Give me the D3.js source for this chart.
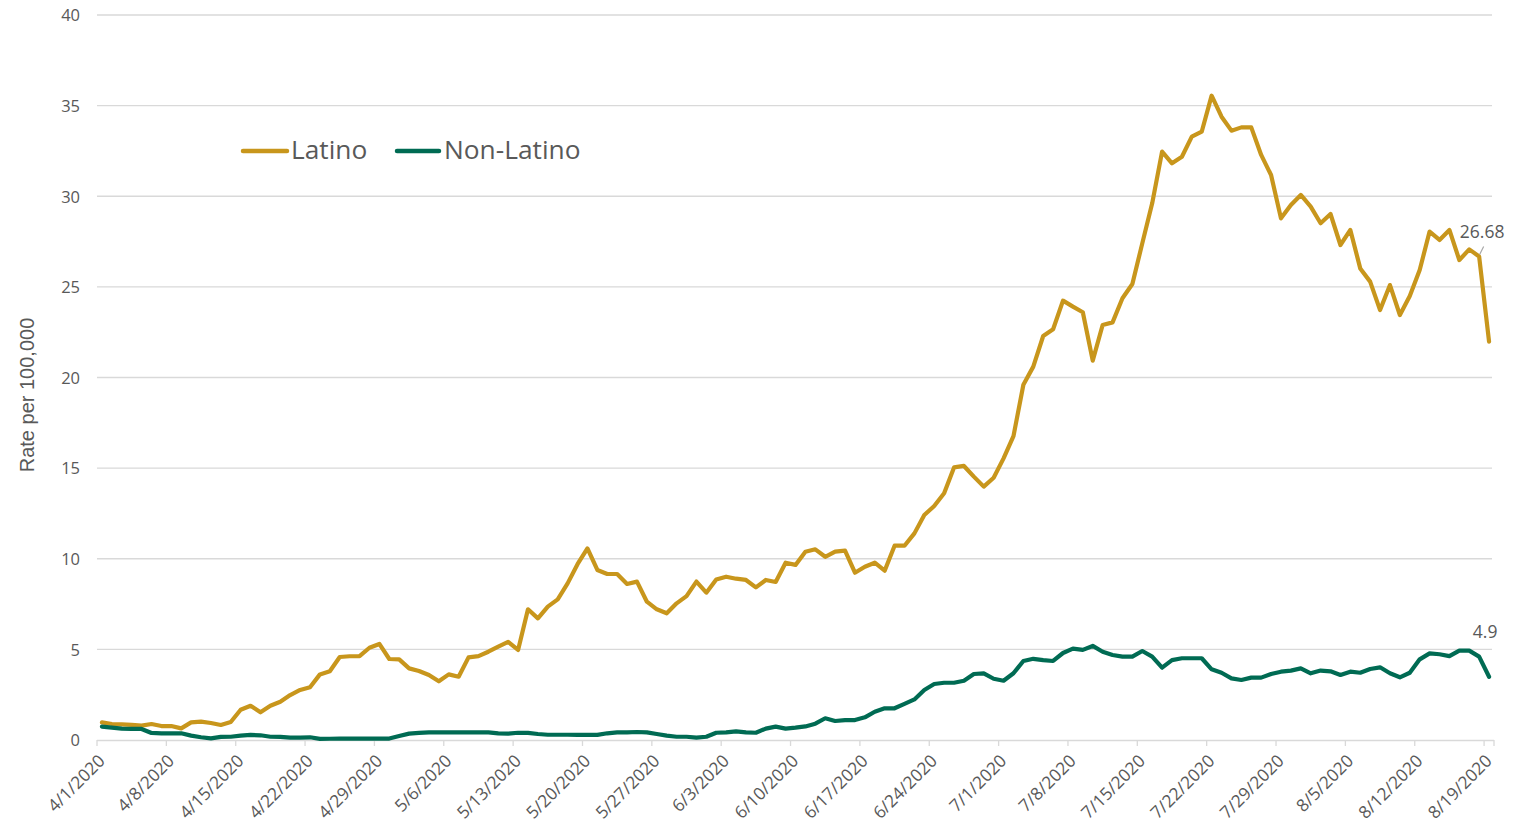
<!DOCTYPE html>
<html>
<head>
<meta charset="utf-8">
<script src="https://cdn.jsdelivr.net/npm/d3@7"></script>
<style>
  html, body { margin: 0; padding: 0; background: #ffffff; }
  svg { display: block; }
</style>
</head>
<body>
<svg id="chart" width="1526" height="829"></svg>
<script>
// ---- data ----
const startDate = "2020-04-01";
const seriesNames = ["Latino", "Non-Latino"];
const latino = [
  0.97, 0.88, 0.86, 0.83, 0.79, 0.88, 0.77, 0.77, 0.64, 0.97,
  1.01, 0.94, 0.83, 0.99, 1.67, 1.89, 1.53, 1.89, 2.11, 2.48,
  2.76, 2.91, 3.62, 3.79, 4.58, 4.62, 4.63, 5.09, 5.30, 4.47,
  4.45, 3.95, 3.81, 3.59, 3.24, 3.62, 3.49, 4.56, 4.63, 4.87,
  5.15, 5.41, 4.97, 7.21, 6.71, 7.36, 7.76, 8.64, 9.70, 10.57,
  9.38, 9.16, 9.16, 8.61, 8.74, 7.63, 7.21, 6.99, 7.54, 7.94,
  8.74, 8.13, 8.86, 9.01, 8.90, 8.83, 8.42, 8.83, 8.72, 9.78,
  9.66, 10.39, 10.52, 10.11, 10.39, 10.45, 9.23, 9.56, 9.78, 9.34,
  10.72, 10.72, 11.40, 12.41, 12.91, 13.61, 15.04, 15.12, 14.53, 13.98,
  14.47, 15.54, 16.77, 19.60, 20.60, 22.29, 22.66, 24.24, 23.91, 23.60,
  20.93, 22.90, 23.04, 24.37, 25.16, 27.40, 29.61, 32.46, 31.82, 32.18,
  33.29, 33.56, 35.55, 34.39, 33.62, 33.80, 33.80, 32.28, 31.17, 28.78,
  29.52, 30.07, 29.43, 28.51, 29.02, 27.31, 28.14, 26.02, 25.29, 23.72,
  25.10, 23.45, 24.50, 25.93, 28.05, 27.59, 28.14, 26.48, 27.07, 26.68,
  21.98
];
const nonLatino = [
  0.74, 0.68, 0.63, 0.61, 0.61, 0.39, 0.37, 0.37, 0.37, 0.24,
  0.15, 0.09, 0.17, 0.18, 0.24, 0.28, 0.26, 0.18, 0.17, 0.13,
  0.13, 0.15, 0.06, 0.07, 0.08, 0.08, 0.08, 0.08, 0.08, 0.08,
  0.22, 0.35, 0.39, 0.42, 0.42, 0.42, 0.42, 0.42, 0.42, 0.42,
  0.37, 0.35, 0.40, 0.39, 0.33, 0.29, 0.29, 0.29, 0.28, 0.28,
  0.28, 0.37, 0.42, 0.42, 0.44, 0.42, 0.33, 0.24, 0.18, 0.18,
  0.13, 0.18, 0.40, 0.42, 0.48, 0.42, 0.40, 0.63, 0.74, 0.63,
  0.68, 0.75, 0.90, 1.20, 1.05, 1.10, 1.10, 1.25, 1.56, 1.75,
  1.75, 1.99, 2.24, 2.76, 3.09, 3.16, 3.16, 3.27, 3.64, 3.68,
  3.38, 3.27, 3.68, 4.36, 4.48, 4.41, 4.36, 4.80, 5.04, 4.97,
  5.19, 4.87, 4.69, 4.60, 4.60, 4.91, 4.60, 3.99, 4.41, 4.51,
  4.51, 4.51, 3.90, 3.71, 3.40, 3.31, 3.44, 3.44, 3.64, 3.77,
  3.83, 3.95, 3.68, 3.83, 3.79, 3.59, 3.77, 3.71, 3.92, 4.01,
  3.68, 3.46, 3.71, 4.45, 4.78, 4.73, 4.63, 4.93, 4.93, 4.60,
  3.49
];
const yTicks = [0, 5, 10, 15, 20, 25, 30, 35, 40];
const xTickLabels = ["4/1/2020", "4/8/2020", "4/15/2020", "4/22/2020", "4/29/2020",
  "5/6/2020", "5/13/2020", "5/20/2020", "5/27/2020", "6/3/2020", "6/10/2020",
  "6/17/2020", "6/24/2020", "7/1/2020", "7/8/2020", "7/15/2020", "7/22/2020",
  "7/29/2020", "8/5/2020", "8/12/2020", "8/19/2020"];
const labelIndex = 139;
const labelTexts = ["26.68", "4.9"];
const labelValues = [26.68, 4.9];

// ---- setup ----
(function () {
const parse = d3.timeParse("%Y-%m-%d");
const d0 = parse(startDate);
const dates = latino.map((_, i) => d3.timeDay.offset(d0, i));
const fmt = d => (d.getMonth() + 1) + "/" + d.getDate() + "/" + d.getFullYear();
const categories = dates.map(fmt);

const colors = { "Latino": "#C8961C", "Non-Latino": "#006B53" };
const seriesData = { "Latino": latino, "Non-Latino": nonLatino };

const svg = d3.select("#chart");
const mLeft = 97, mRight = 1494, mTop = 15, mBottom = 740;

const x = d3.scaleBand().domain(categories).range([mLeft, mRight]).paddingInner(0).paddingOuter(0);
const y = d3.scaleLinear().domain([0, 40]).range([mBottom, mTop]);
const cx = i => x(categories[i]) + x.bandwidth() / 2;

const tickColor = "#595959";
const fontNum = "'Open Sans', 'Noto Sans', sans-serif";

// gridlines
svg.append("g").selectAll("line").data(yTicks.filter(t => t > 0)).join("line")
  .attr("x1", mLeft).attr("x2", mRight - 2)
  .attr("y1", d => y(d)).attr("y2", d => y(d))
  .attr("stroke", "#d9d9d9").attr("stroke-width", 1.3);

// y axis labels
const yAxis = d3.axisLeft(y).tickValues(yTicks).tickSize(0).tickPadding(0);
const yg = svg.append("g").attr("transform", `translate(80,0)`).call(yAxis);
yg.select(".domain").remove();
yg.selectAll("text").attr("fill", tickColor).attr("font-size", 16.5)
  .attr("font-family", fontNum).attr("dy", "0.35em");

// x axis
const xAxis = d3.axisBottom(x).tickValues(xTickLabels).tickSize(6).tickSizeOuter(0).tickFormat(d => d);
const xg = svg.append("g").attr("transform", `translate(0,${mBottom})`).call(xAxis);
xg.select(".domain").attr("stroke", "#d9d9d9").attr("stroke-width", 1.5)
  .attr("d", `M${mLeft},0.5H${mRight}`);
xg.selectAll(".tick").attr("transform", d => `translate(${x(d)},0)`);
xg.selectAll(".tick line").attr("stroke", "#d9d9d9").attr("stroke-width", 1.3);
xg.append("line").attr("x1", mRight).attr("x2", mRight).attr("y1", 0).attr("y2", 6)
  .attr("stroke", "#d9d9d9").attr("stroke-width", 1.3);
xg.selectAll(".tick text")
  .attr("fill", tickColor).attr("font-size", 17.3)
  .attr("font-family", fontNum)
  .attr("text-anchor", "end")
  .attr("dy", 0).attr("y", 0)
  .attr("transform", "translate(9,22) rotate(-45)");

// y axis title
svg.append("text")
  .attr("transform", "translate(34,395) rotate(-90)")
  .attr("text-anchor", "middle")
  .attr("fill", tickColor)
  .attr("font-size", 20)
  .attr("font-family", "'Liberation Sans Narrow', 'Liberation Sans', sans-serif")
  .text("Rate per 100,000");

// lines
const line = d3.line().x((d, i) => cx(i)).y(d => y(d));
seriesNames.forEach(name => {
  svg.append("path").datum(seriesData[name])
    .attr("fill", "none").attr("stroke", colors[name])
    .attr("stroke-width", 4.2).attr("stroke-linejoin", "round").attr("stroke-linecap", "round")
    .attr("d", line);
});

// data labels
const lx = cx(labelIndex);
const ly = y(labelValues[0]);
svg.append("line").attr("x1", lx + 0.5).attr("y1", ly - 2).attr("x2", lx + 4.5).attr("y2", ly - 10)
  .attr("stroke", "#a6a6a6").attr("stroke-width", 1.2);
svg.append("text").attr("x", lx + 3).attr("y", ly - 18).attr("text-anchor", "middle")
  .attr("fill", tickColor).attr("font-size", 17.5).attr("font-family", fontNum).text(labelTexts[0]);
svg.append("text").attr("x", lx + 6).attr("y", y(labelValues[1]) - 13)
  .attr("text-anchor", "middle")
  .attr("fill", tickColor).attr("font-size", 17.5).attr("font-family", fontNum).text(labelTexts[1]);

// legend
const legend = svg.append("g");
const legendItems = [
  { name: "Latino", x1: 243, x2: 287, tx: 291 },
  { name: "Non-Latino", x1: 397, x2: 439, tx: 444 }
];
legendItems.forEach(it => {
  legend.append("line").attr("x1", it.x1).attr("x2", it.x2).attr("y1", 151).attr("y2", 151)
    .attr("stroke", colors[it.name]).attr("stroke-width", 4.5).attr("stroke-linecap", "round");
  legend.append("text").attr("x", it.tx).attr("y", 159)
    .attr("fill", tickColor).attr("font-size", 26.3)
    .attr("font-family", "'Open Sans', 'Noto Sans', sans-serif")
    .text(it.name);
});
})();
</script>
</body>
</html>
